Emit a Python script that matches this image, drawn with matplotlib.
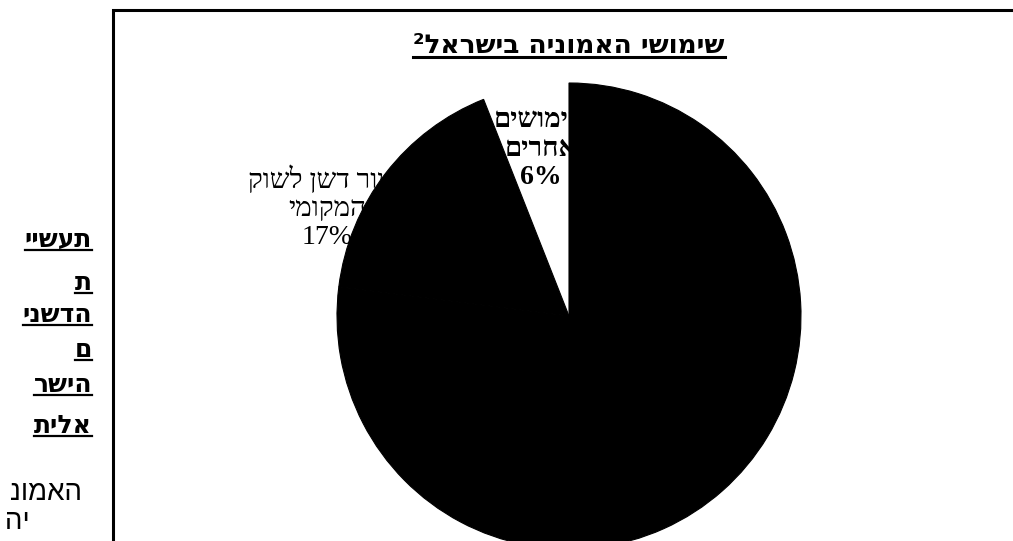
import matplotlib
matplotlib.use("Agg")
import matplotlib.pyplot as plt
from matplotlib.lines import Line2D

# ---------------- data ----------------
title = "שימושי האמוניה בישראל²"
categories = ["שימושים\nאחרים", "ייצור דשן לשוק\nהמקומי", "ייצור דשן ליצוא"]
shares = [6, 17, 77]
slice_colors = ["white", "black", "black"]
side_heading = ["תעשיי", "ת", "הדשני", "ם", "הישר", "אלית"]
side_body = ["האמונ", "יה"]

# ---------------- layout ----------------
W, H, DPI = 1013, 541, 100
CX, CY = 569, 316          # pie centre (pixels from top-left)
RX, RY = 232, 233          # pie radii in pixels
LIM = 1.5

SERIF = ["Liberation Serif", "DejaVu Serif", "DejaVu Sans"]
SANS = ["Liberation Sans", "DejaVu Sans"]
BOLD_SANS = ["DejaVu Sans"]


def vis(s):
    """Hebrew logical order -> visual order (matplotlib draws LTR)."""
    return "\n".join(line[::-1] for line in s.split("\n"))


def fx(x):
    return x / W


def fy(y):
    return 1 - y / H


fig = plt.figure(figsize=(W / DPI, H / DPI), dpi=DPI)
fig.patch.set_facecolor("white")

ax_w, ax_h = 2 * LIM * RX, 2 * LIM * RY
ax = fig.add_axes([(CX - ax_w / 2) / W, ((H - CY) - ax_h / 2) / H, ax_w / W, ax_h / H])
wedges, _ = ax.pie(shares, colors=slice_colors, startangle=90, counterclock=True,
                   radius=1, wedgeprops=dict(linewidth=0))
ax.set_aspect("auto")
ax.set_xlim(-LIM, LIM)
ax.set_ylim(-LIM, LIM)
ax.axis("off")

# white slice below the labels, black slices above them (labels partly hidden)
for w, c in zip(wedges, slice_colors):
    if c == "white":
        w.set_zorder(0.5)
    else:
        w.set_zorder(3)
        w.set_edgecolor(c)
        w.set_linewidth(0.8)

label_px = [(541, 149), (327, 208), (700, 380)]
label_weight = ["bold", "normal", "normal"]
for cat, v, (lx, ly), wt in zip(categories, shares, label_px, label_weight):
    txt = vis(cat) + "\n" + f"{v}%"
    ax.text((lx - CX) / RX, (CY - ly) / RY, txt, ha="center", va="center",
            multialignment="center", fontsize=20, fontweight=wt, family=SERIF,
            color="black", zorder=1, linespacing=1.17)

# title
t_title = fig.text(fx(CX), fy(46), vis(title), ha="center", va="center",
                   fontsize=19, fontweight="bold", family=BOLD_SANS)

# frame of the chart area
fig.add_artist(Line2D([fx(113), fx(113), 1.02], [-0.02, fy(10), fy(10)],
                      transform=fig.transFigure, color="black", lw=2.2,
                      solid_joinstyle="miter"))

# side text (document body outside the chart)
side_y = [240, 283, 315, 350, 385, 426]
side_texts = []
for s, y in zip(side_heading, side_y):
    side_texts.append(fig.text(fx(92), fy(y), vis(s), ha="right", va="center",
                               fontsize=18, fontweight="bold", family=BOLD_SANS))
body_pos = [(82, 493, "right"), (5, 522, "left")]
for s, (x, y, ha) in zip(side_body, body_pos):
    fig.text(fx(x), fy(y), vis(s), ha=ha, va="center", fontsize=20,
             family=SANS)

# underlines
fig.canvas.draw()
renderer = fig.canvas.get_renderer()


def underline(t, lw, off):
    bb = t.get_window_extent(renderer)
    y = bb.y0 + off
    fig.add_artist(Line2D([bb.x0 / W, bb.x1 / W], [y / H, y / H],
                          transform=fig.transFigure, color="black", lw=lw))


underline(t_title, 2.2, 2)
for t in side_texts:
    underline(t, 1.6, 2)

fig.savefig("out.png", dpi=DPI)
